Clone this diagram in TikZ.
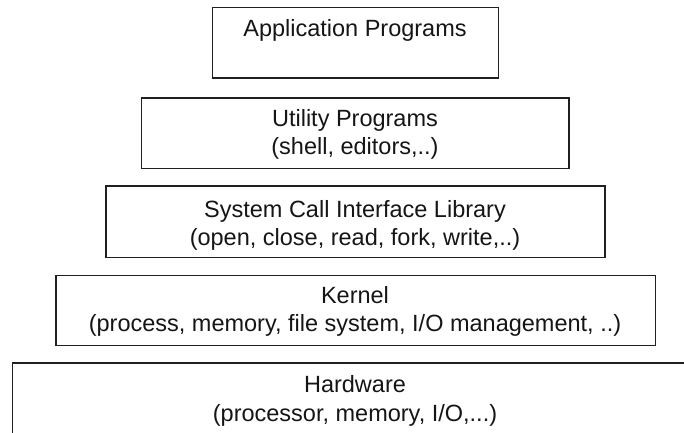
\documentclass[tikz,border=0pt]{standalone}
\usepackage{fontspec}
\setmainfont{Liberation Sans}
\definecolor{linec}{HTML}{202020}
\definecolor{txtc}{HTML}{151515}
\begin{document}
\begin{tikzpicture}[x=1pt,y=-1pt,
  layer/.style={draw=linec, line width=1.4pt, inner sep=0pt, outer sep=0pt, rectangle},
  txt/.style={font=\fontsize{23.5}{28}\selectfont, text=txtc, inner sep=0pt, anchor=base}]
\useasboundingbox (0,0) rectangle (684,432);
\clip (0,0) rectangle (684,432);
\node[layer, minimum width=285.6pt, minimum height=70.7pt] (app) at (355.5,42.65) {};
\node[layer, minimum width=427.5pt, minimum height=70.7pt] (util) at (355.05,133.35) {};
\node[layer, minimum width=499pt, minimum height=71.3pt] (sys) at (355.5,221.65) {};
\node[layer, minimum width=599.5pt, minimum height=70.4pt] (kern) at (355.75,310.5) {};
\node[layer, minimum width=686pt, minimum height=77pt] (hw) at (355.5,401.5) {};
\node[txt] (appA) at (355,36) {Application Programs};
\node[txt] (utilA) at (355,126.7) {Utility Programs};
\node[txt] (utilB) at (355,154) {(shell, editors,..)};
\node[txt] (sysA) at (355,217.7) {System Call Interface Library};
\node[txt] (sysB) at (355,245) {(open, close, read, fork, write,..)};
\node[txt] (kernA) at (355,303.3) {Kernel};
\node[txt] (kernB) at (355,331.7) {(process, memory, file system, I/O management, ..)};
\node[txt] (hwA) at (355,392.7) {Hardware};
\node[txt] (hwB) at (355,421.7) {(processor, memory, I/O,...)};
\end{tikzpicture}
\end{document}
